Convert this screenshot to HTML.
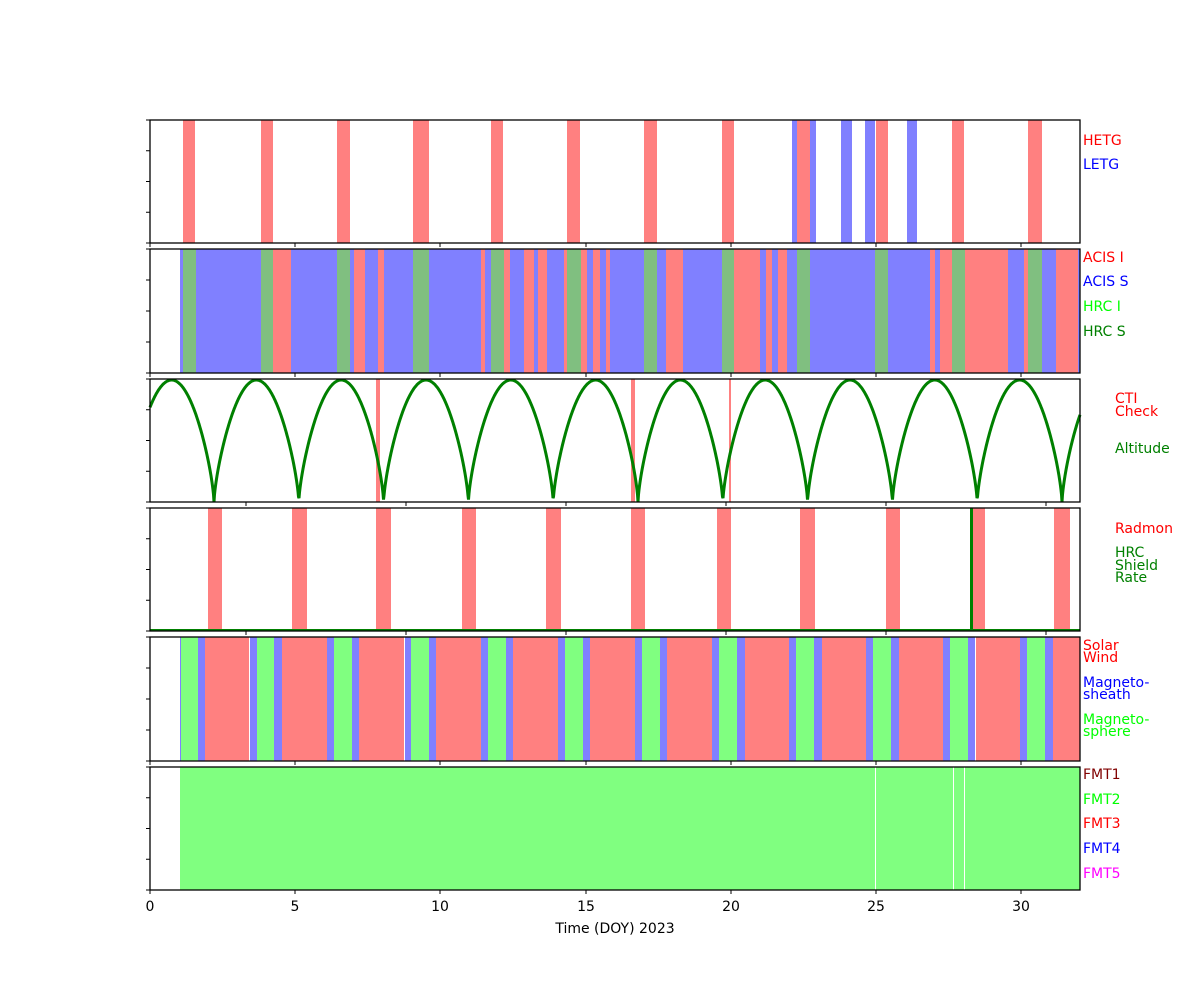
<!DOCTYPE html>
<html><head><meta charset="utf-8"><style>
html,body{margin:0;padding:0;background:#fff;}
svg{display:block;font-family:"DejaVu Sans","Liberation Sans",sans-serif;}
</style></head><body>
<svg id="s" width="1200" height="1000" xmlns="http://www.w3.org/2000/svg">
<g id="bars"></g>
<path id="alt" fill="none" stroke="#008000" stroke-width="3"/>
<g id="frames"></g>
<g font-size="14">
<text x="1083" y="145" fill="#ff0000">HETG</text>
<text x="1083" y="169" fill="#0000ff">LETG</text>
<text x="1083" y="262" fill="#ff0000">ACIS I</text>
<text x="1083" y="286" fill="#0000ff">ACIS S</text>
<text x="1083" y="311" fill="#00ff00">HRC I</text>
<text x="1083" y="336" fill="#008000">HRC S</text>
<text x="1115" y="403" fill="#ff0000">CTI</text>
<text x="1115" y="416" fill="#ff0000">Check</text>
<text x="1115" y="453" fill="#008000">Altitude</text>
<text x="1115" y="533" fill="#ff0000">Radmon</text>
<text x="1115" y="557" fill="#008000">HRC</text>
<text x="1115" y="570" fill="#008000">Shield</text>
<text x="1115" y="582" fill="#008000">Rate</text>
<text x="1083" y="650" fill="#ff0000">Solar</text>
<text x="1083" y="662" fill="#ff0000">Wind</text>
<text x="1083" y="687" fill="#0000ff">Magneto-</text>
<text x="1083" y="699" fill="#0000ff">sheath</text>
<text x="1083" y="724" fill="#00ff00">Magneto-</text>
<text x="1083" y="736" fill="#00ff00">sphere</text>
<text x="1083" y="779" fill="#800000">FMT1</text>
<text x="1083" y="804" fill="#00ff00">FMT2</text>
<text x="1083" y="828" fill="#ff0000">FMT3</text>
<text x="1083" y="853" fill="#0000ff">FMT4</text>
<text x="1083" y="878" fill="#ff00ff">FMT5</text>
</g>
<g font-size="14" text-anchor="middle" fill="#000">
<text x="150" y="911">0</text><text x="295" y="911">5</text><text x="440" y="911">10</text>
<text x="586" y="911">15</text><text x="731" y="911">20</text><text x="876" y="911">25</text>
<text x="1021" y="911">30</text>
<text x="615" y="933">Time (DOY) 2023</text>
</g>
</svg>
<script>
var R="#ff8080",B="#8080ff",G="#80bf80",L="#80ff80";
var P=[[120,243],[249,373],[379,502],[508,631],[637,761],[767,890]];
var bars=[];
function add(p,list){list.forEach(function(b){bars.push([p,b[0],b[1],b[2]]);});}
add(0,[[183,195,R],[261,273,R],[337,350,R],[413,429,R],[491,503,R],[567,580,R],[644,657,R],[722,734,R],[792,797,B],[797,810,R],[810,816,B],[841,852,B],[865,875,B],[876,888,R],[907,917,B],[952,964,R],[1028,1042,R]]);
add(1,[[180,1080,B],[183,196,G],[261,273,G],[273,291,R],[337,350,G],[354,365,R],[378,384,R],[413,429,G],[481,485,R],[491,504,G],[504,510,R],[524,534,R],[538,547,R],[564,567,R],[567,581,G],[581,587,R],[593,600,R],[606,610,R],[644,657,G],[666,683,R],[722,734,G],[734,760,R],[766,772,R],[778,787,R],[797,810,G],[875,888,G],[930,935,R],[940,952,R],[952,965,G],[965,1008,R],[1024,1028,R],[1028,1042,G],[1056,1078,R]]);
add(2,[[376,380,R],[631,635,R],[729,731,R]]);
add(3,[[208,222,R],[292,307,R],[376,391,R],[462,476,R],[546,561,R],[631,645,R],[717,731,R],[800,815,R],[886,900,R],[972,985,R],[1054,1070,R],[970,973,"#008000"]]);
add(4,[[180,1080,R],[180,181,B],[181,198,L],[198,205,B],[250,257,B],[257,274,L],[274,282,B],[327,334,B],[334,352,L],[352,359,B],[404,411,B],[411,429,L],[429,436,B],[481,488,B],[488,506,L],[506,513,B],[558,565,B],[565,583,L],[583,590,B],[635,642,B],[642,660,L],[660,667,B],[712,719,B],[719,737,L],[737,745,B],[789,796,B],[796,814,L],[814,822,B],[866,873,B],[873,891,L],[891,899,B],[943,950,B],[950,968,L],[968,976,B],[1020,1027,B],[1027,1045,L],[1045,1053,B],[249,250,"#fff"],[404,405,"#fff"],[975,976,"#fff"]]);
add(5,[[180,1080,L],[875,876,"#fff"],[953,954,"#fff"],[964,965,"#fff"]]);
var h="";
bars.forEach(function(b){var p=P[b[0]];h+='<rect x="'+b[1]+'" y="'+p[0]+'" width="'+(b[2]-b[1])+'" height="'+(p[1]-p[0])+'" fill="'+b[3]+'"/>';});
h+='<rect x="150" y="629" width="930" height="2" fill="#008000"/>';
document.getElementById("bars").innerHTML=h;
var d="";
for(var x=150;x<=1080;x+=0.5){var t=Math.abs(Math.sin(Math.PI*(x-214)/84.8));var y=502-122*Math.pow(t,0.7);d+=(x==150?"M":"L")+x+","+y.toFixed(1);}
document.getElementById("alt").setAttribute("d",d);
var f="";
var tA=[150,295,440,586,731,876,1021],tB=[246,406,566,726,886,1046];
P.forEach(function(p,i){
 f+='<rect x="150" y="'+p[0]+'" width="930" height="'+(p[1]-p[0])+'" fill="none" stroke="#000" stroke-width="1.3"/>';
 for(var k=0;k<5;k++){var y=p[0]+(p[1]-p[0])*k/4;f+='<line x1="146" x2="150" y1="'+y+'" y2="'+y+'" stroke="#000" stroke-width="1"/>';}
 var ts=(i==2||i==3)?tB:tA;
 ts.forEach(function(x){f+='<line x1="'+x+'" x2="'+x+'" y1="'+p[1]+'" y2="'+(p[1]+4)+'" stroke="#000" stroke-width="1"/>';});
});
document.getElementById("frames").innerHTML=f;
</script>
</body></html>
